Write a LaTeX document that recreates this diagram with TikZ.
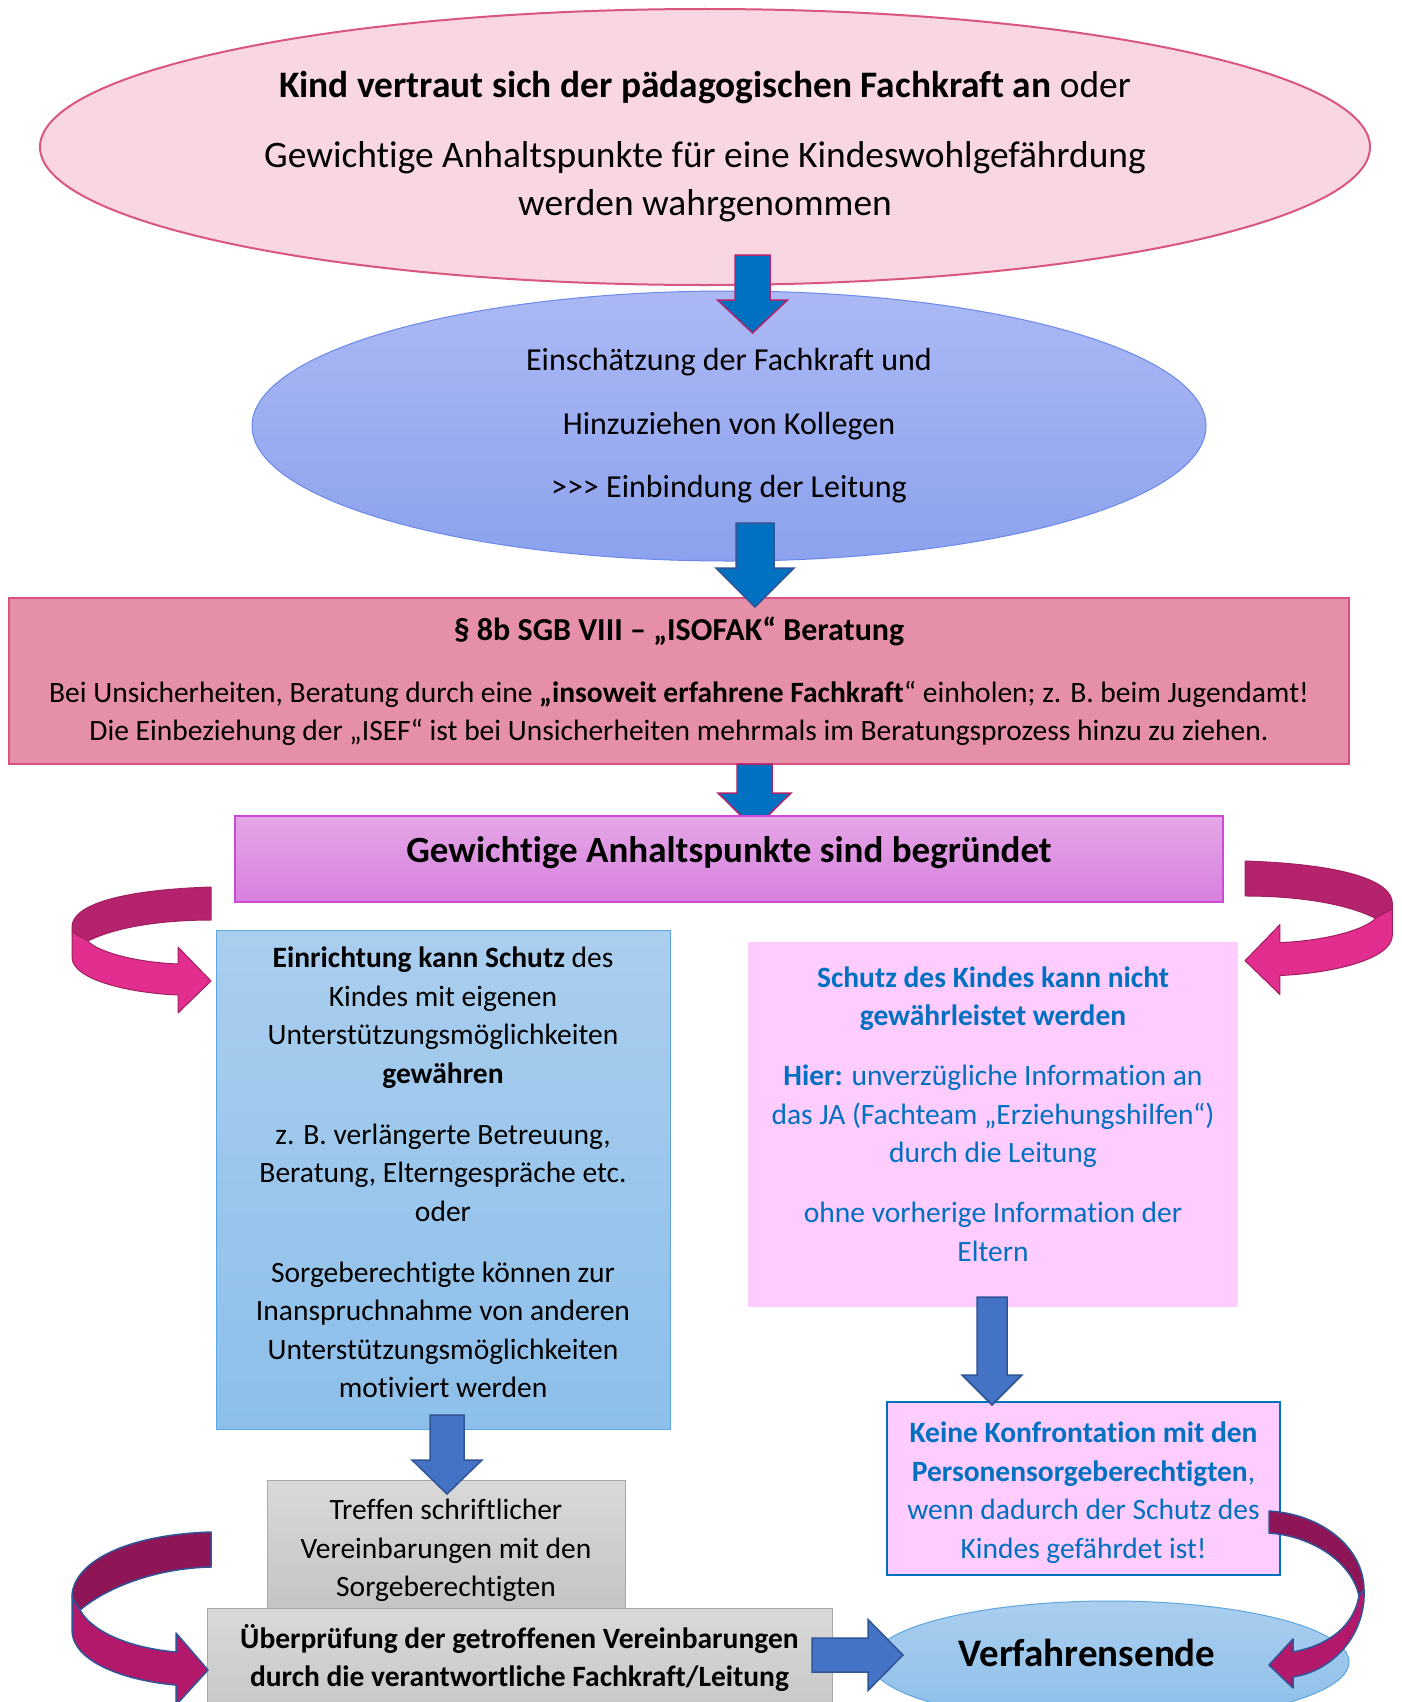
\documentclass[tikz,border=0pt]{standalone}
\usepackage{fontspec}
\setmainfont{Carlito}[Ligatures=NoCommon]
\usetikzlibrary{shapes.geometric}

\definecolor{trigfill}{HTML}{F8D7E2}
\definecolor{trigline}{HTML}{D9577F}
\definecolor{asstop}{HTML}{ABB8F4}
\definecolor{assbot}{HTML}{8CA2EE}
\definecolor{assline}{HTML}{6A89EA}
\definecolor{isofill}{HTML}{E68FA8}
\definecolor{isoline}{HTML}{DC4F80}
\definecolor{grtop}{HTML}{E4A6E6}
\definecolor{grbot}{HTML}{D880DE}
\definecolor{grline}{HTML}{CC4AD4}
\definecolor{skytop}{HTML}{AACEEE}
\definecolor{skybot}{HTML}{8CBFEA}
\definecolor{skyline}{HTML}{5DA6E0}
\definecolor{lilac}{HTML}{FFCCFF}
\definecolor{greytop}{HTML}{D9D9D9}
\definecolor{greybot}{HTML}{C4C4C4}
\definecolor{greyline}{HTML}{A8A8A8}
\definecolor{infoblue}{HTML}{0070C0}
\definecolor{arrowblue}{HTML}{4472C4}
\definecolor{navy}{HTML}{2F5597}
\definecolor{magline}{HTML}{B0246C}
\definecolor{ribdark}{HTML}{B5236F}
\definecolor{riblight}{HTML}{E22E8F}
\definecolor{ribline}{HTML}{A0205F}
\definecolor{plumdark}{HTML}{8E1556}
\definecolor{plumlight}{HTML}{B3186A}

\begin{document}
\begin{tikzpicture}[x=1pt, y=-1pt,
    every node/.style={inner sep=0pt, outer sep=0pt},
    body/.style={font=\fontsize{29.5}{38.5}\selectfont, align=center},
    blue arrow/.style={fill=infoblue, draw=magline, line width=1.5pt},
    flat arrow/.style={fill=arrowblue, draw=navy, line width=1.5pt},
    fold back/.style={fill=ribdark, draw=ribline, line width=1pt, line join=round},
    fold front/.style={fill=riblight, draw=ribline, line width=1pt, line join=round},
    fold back dark/.style={fill=plumdark, draw=navy, line width=1.5pt, line join=round},
    fold front dark/.style={fill=plumlight, draw=navy, line width=1.5pt, line join=round},
    pics/down block/.style n args={4}{code={
        \path[pic actions] (-#1,0) -- (#1,0) -- (#1,#3) -- (#2,#3) -- (0,#3+#4) -- (-#2,#3) -- (-#1,#3) -- cycle;}},
    pics/right block/.style n args={4}{code={
        \path[pic actions] (0,-#1) -- (#3,-#1) -- (#3,-#2) -- (#3+#4,0) -- (#3,#2) -- (#3,#1) -- (0,#1) -- cycle;}},
    pics/turn ribbon/.style={code={
        \path[fold back] (0,0) .. controls (-91,3) and (-139,18) .. (-139,40) -- (-139,45) -- (-123,54)
            .. controls (-91,38) and (-41,33) .. (0,33) -- cycle;
        \path[fold front] (-139,45) -- (-139,70) .. controls (-139,93) and (-81,106) .. (-33,108) -- (-33,126)
            -- (0,94) -- (-33,60) -- (-33,77) .. controls (-81,75) and (-116,63) .. (-123,54) -- cycle;}},
]
    \clip (0,0) rectangle (1402,1702);
    \fill[white] (0,0) rectangle (1402,1702);

    % trigger and first assessment
    \node[ellipse, draw=trigline, line width=2pt, fill=trigfill, minimum width=1330pt, minimum height=276pt,
          font=\fontsize{37.4}{48}\selectfont, align=center] (trigger) at (705,147)
        {\textbf{Kind vertraut sich der pädagogischen Fachkraft an} oder\\[22pt]
         Gewichtige Anhaltspunkte für eine Kindeswohlgefährdung\\werden wahrgenommen};
    \node[ellipse, draw=assline, line width=1pt, top color=asstop, bottom color=assbot, minimum width=954pt,
          minimum height=270pt, font=\fontsize{32}{63.5}\selectfont, align=center] (assess) at (729,426)
        {Einschätzung der Fachkraft und\\Hinzuziehen von Kollegen\\>{}>{}> Einbindung der Leitung};
    \pic[blue arrow] at (752.5,255) {down block={17.5}{35}{45}{33}};

    % ISOFAK counselling
    \node[rectangle, draw=isoline, line width=2pt, fill=isofill, minimum width=1340pt, minimum height=166pt,
          body] (isofak) at (679,681)
        {{\fontsize{32}{38.5}\selectfont\bfseries § 8b SGB VIII – „ISOFAK“ Beratung}\\[23.5pt]
         Bei Unsicherheiten, Beratung durch eine \textbf{„insoweit erfahrene Fachkraft}“ einholen; z. B. beim Jugendamt!\\
         Die Einbeziehung der „ISEF“ ist bei Unsicherheiten mehrmals im Beratungsprozess hinzu zu ziehen.};
    \pic[blue arrow, draw=navy] at (755,523) {down block={19}{39}{45}{39}};
    \pic[blue arrow] at (754.5,764) {down block={17.5}{36.5}{29}{36}};

    \node[rectangle, draw=grline, line width=1.5pt, top color=grtop, bottom color=grbot, minimum width=988pt,
          minimum height=86pt] (grounded) at (729,859) {};
    \node[font=\fontsize{37}{44}\selectfont\bfseries, yshift=6pt] (grounded text) at (grounded)
        {Gewichtige Anhaltspunkte sind begründet};
    \pic at (211,887) {turn ribbon};
    \pic[xscale=-1.06, yscale=1.06] at (1245,861) {turn ribbon};

    % the two branches
    \node[rectangle, draw=skyline, line width=1pt, top color=skytop, bottom color=skybot, minimum width=454pt,
          minimum height=499pt] (ownhelp) at (443,1179.5) {};
    \node[body, yshift=7pt] (ownhelp text) at (ownhelp)
        {\textbf{Einrichtung kann Schutz} des\\Kindes mit eigenen\\Unterstützungsmöglichkeiten\\\textbf{gewähren}\\[22.5pt]
         z. B. verlängerte Betreuung,\\Beratung, Elterngespräche etc.\\oder\\[22.5pt]
         Sorgeberechtigte können zur\\Inanspruchnahme von anderen\\Unterstützungsmöglichkeiten\\motiviert werden};
    \node[rectangle, fill=lilac, minimum width=490pt, minimum height=365pt] (nohelp) at (993,1124.5) {};
    \node[body, text=infoblue, yshift=10.5pt] (nohelp text) at (nohelp)
        {\textbf{Schutz des Kindes kann nicht}\\\textbf{gewährleistet werden}\\[21.5pt]
         \textbf{Hier:} unverzügliche Information an\\das JA (Fachteam „Erziehungshilfen“)\\durch die Leitung\\[21.5pt]
         ohne vorherige Information der\\Eltern};

    \node[rectangle, draw=infoblue, line width=2.5pt, fill=lilac, minimum width=393pt, minimum height=173pt]
        (noconfront) at (1083.5,1488.5) {};
    \node[body, text=infoblue, yshift=-4pt] (noconfront text) at (noconfront)
        {\textbf{Keine Konfrontation mit den}\\\textbf{Personensorgeberechtigten},\\wenn dadurch der Schutz des\\Kindes gefährdet ist!};
    \pic[flat arrow] at (992,1297) {down block={15}{30}{78}{30}};

    % agreements and review
    \node[rectangle, draw=greyline, line width=1pt, top color=greytop, bottom color=greybot, minimum width=358pt,
          minimum height=130pt] (agree) at (446,1545) {};
    \node[body, yshift=-5.5pt] (agree text) at (agree)
        {Treffen schriftlicher\\Vereinbarungen mit den\\Sorgeberechtigten};
    \node[rectangle, draw=greyline, line width=1pt, top color=greytop, bottom color=greybot, minimum width=625pt,
          minimum height=122pt] (review) at (519.5,1669) {};
    \node[body, font=\fontsize{29.5}{38}\selectfont\bfseries, yshift=11pt] (review text) at (review)
        {Überprüfung der getroffenen Vereinbarungen\\durch die verantwortliche Fachkraft/Leitung};
    \pic[flat arrow] at (447,1415) {down block={17}{35}{45}{34}};

    % end of procedure
    \node[ellipse, draw=skyline, line width=1pt, top color=skytop, bottom color=skybot, minimum width=478pt,
          minimum height=122pt] (closing) at (1110,1662) {};
    \node[font=\fontsize{39}{44}\selectfont\bfseries, xshift=-23pt, yshift=9pt] (closing text) at (closing)
        {Verfahrensende};
    \pic[flat arrow] at (812,1655) {right block={17}{35.5}{56}{35}};

    \path[fold back dark] (211,1532) .. controls (120,1535) and (72,1565) .. (72,1597) -- (80,1610)
        .. controls (110,1585) and (160,1568) .. (211,1567) -- cycle;
    \path[fold front dark] (72,1597) -- (72,1630) .. controls (72,1660) and (120,1680) .. (176,1685) -- (176,1705)
        -- (208,1670) -- (176,1633) -- (176,1652) .. controls (130,1648) and (92,1632) .. (80,1610) -- cycle;
    \path[fold back dark] (1269,1511) .. controls (1322,1514) and (1364,1548) .. (1364,1590) -- (1359,1596)
        .. controls (1352,1562) and (1312,1536) .. (1269,1533) -- cycle;
    \path[fold front dark] (1364,1590) .. controls (1366,1632) and (1336,1670) .. (1293,1677) -- (1293,1688)
        -- (1269,1665) -- (1293,1639) -- (1293,1652) .. controls (1330,1645) and (1354,1625) .. (1359,1596) -- cycle;
\end{tikzpicture}
\end{document}
